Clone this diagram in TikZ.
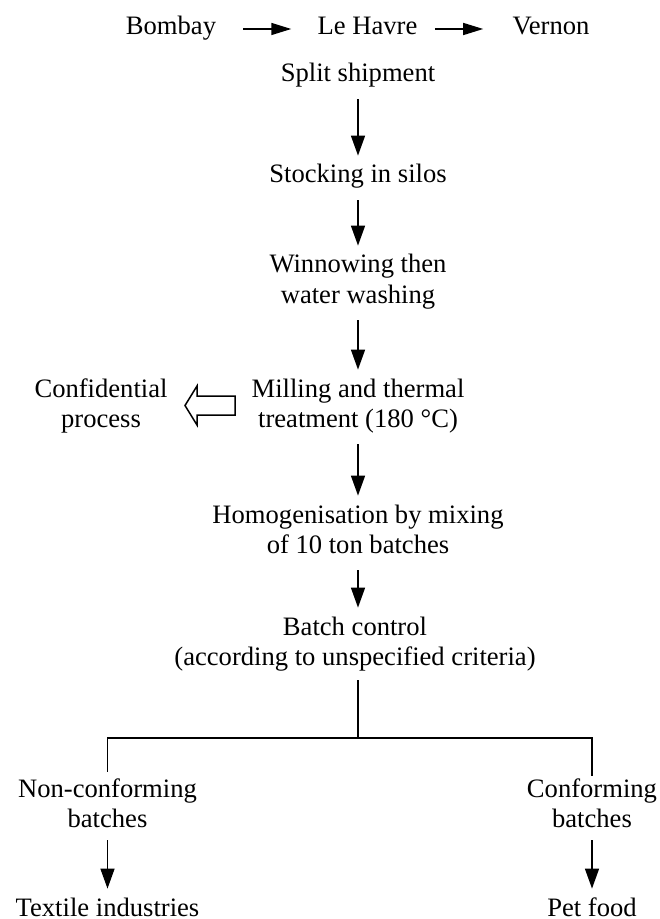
\documentclass[tikz,border=0pt]{standalone}
\usepackage{fontspec}
\setmainfont{Liberation Serif}
\usetikzlibrary{arrows.meta}

\begin{document}
\begin{tikzpicture}[x=0.5pt,y=-0.5pt,
    txt/.style={inner sep=0pt, align=center, anchor=base, font=\fontsize{13.3pt}{15pt}\selectfont},
    down/.style={line width=0.75pt, -{Triangle[length=10pt,width=7pt]}, shorten <=4pt, shorten >=3pt},
    hop/.style={line width=0.75pt, -{Triangle[length=10pt,width=6pt]}},
    fork/.style={line width=0.7pt}]
      \useasboundingbox (0,0) rectangle (659,919);
      \node[txt] (bombay) at (171,35) {\strut Bombay};
      \node[txt] (havre) at (367.5,35) {\strut Le Havre};
      \node[txt] (vernon) at (551,35) {\strut Vernon};
      \node[txt] (split) at (358,82) {\strut Split shipment};
      \node[txt] (stock) at (358,183) {\strut Stocking in silos};
      \node[txt] (winnow) at (358,303) {\strut Winnowing then\\\strut water washing};
      \node[txt] (mill) at (358,427) {\strut Milling and thermal\\\strut treatment (180 °C)};
      \node[txt] (secret) at (101,427) {\strut Confidential\\\strut process};
      \node[txt] (homog) at (358,553) {\strut Homogenisation by mixing\\\strut of 10 ton batches};
      \node[txt] (batch) at (355,665) {\strut Batch control\\\strut (according to unspecified criteria)};
      \node[txt] (noncon) at (107.5,827) {\strut Non-conforming\\\strut batches};
      \node[txt] (conf) at (592,827) {\strut Conforming\\\strut batches};
      \node[txt] (textile) at (107.5,916) {\strut Textile industries};
      \node[txt] (pet) at (592,916) {\strut Pet food};
      \coordinate (split-point) at (358,738);

      \draw[hop, shorten <=13.5pt, shorten >=13pt] (bombay) -- (havre);
      \draw[hop, shorten <=8.5pt, shorten >=14.5pt] (havre) -- (vernon);
      \draw[down] (split) -- (stock);
      \draw[down] (stock) -- (winnow);
      \draw[down] (winnow) -- (mill);
      \draw[down] (mill) -- (homog);
      \draw[down] (homog.south -| split-point) -- (batch.north -| split-point);
      \draw[fork, shorten <=3pt] (batch.south -| split-point) -- (split-point);
      \draw[fork, shorten <=2pt] (noncon.north) |- (split-point) -| (conf.north);
      \draw[down, shorten <=2pt] (noncon) -- (textile);
      \draw[down, shorten <=2pt] (conf) -- (pet);
      \draw[line width=0.75pt] (235,396) -- (197,396) -- (197,386) -- (185,405.5)
        -- (197,425) -- (197,415) -- (235,415) -- cycle;
\end{tikzpicture}
\end{document}
